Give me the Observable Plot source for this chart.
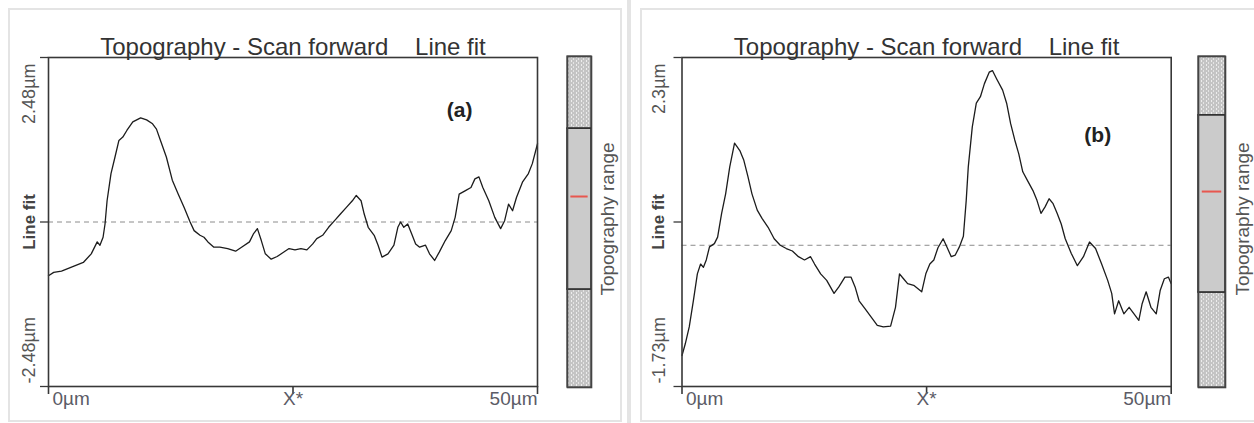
<!DOCTYPE html>
<html><head><meta charset="utf-8">
<script src="https://cdn.jsdelivr.net/npm/d3@7"></script>
<script src="https://cdn.jsdelivr.net/npm/@observablehq/plot@0.6"></script>
<style>
body{margin:0;background:#fff;}
#wrap{position:relative;width:1254px;height:423px;overflow:hidden;font-family:"Liberation Sans",Arial,sans-serif;}
#wrap svg{position:absolute;top:0;overflow:visible;}
svg text{white-space:pre;}
.box{position:absolute;border:2px solid #e4e4e4;box-sizing:border-box;}
</style></head><body><div id="wrap"></div>
<script>
// ---- data ----
const titleText = "Topography - Scan forward    Line fit";
const xTicks = [0, 25, 50];
const xTickLabels = ["0µm", "X*", "50µm"];
const rangeLabel = "Topography range";

const aYDomain = [-2.48, 2.48];
const aYLabels = ["-2.48µm", "Line fit", "2.48µm"];
const aLabel = "(a)";
const aX = [0,0.53,1.33,2.35,3.56,4.37,4.98,5.26,5.58,5.78,5.99,6.39,6.80,7.20,7.6,8.01,8.62,9.42,10.03,10.64,11.04,11.45,12.05,12.66,13.27,13.87,14.48,14.89,15.49,15.90,16.30,16.91,17.52,18.32,19.13,19.74,20.55,20.95,21.36,21.76,22.17,22.77,23.38,23.99,24.60,25.20,25.81,26.42,27.02,27.43,28.03,28.64,29.25,29.85,30.46,31.07,31.47,31.96,32.28,32.69,33.30,33.70,34.10,34.71,35.32,35.72,36.00,36.33,36.73,37.14,37.54,37.95,38.55,38.96,39.48,39.97,40.57,41.18,41.58,41.99,42.59,43.20,43.60,44.01,44.41,45.02,45.63,46.23,46.64,47.04,47.45,47.85,48.46,49.07,49.47,50];
const aY = [-0.81,-0.76,-0.74,-0.68,-0.61,-0.48,-0.30,-0.35,-0.23,-0.03,0.32,0.73,0.98,1.23,1.28,1.38,1.51,1.57,1.54,1.48,1.40,1.23,0.98,0.63,0.42,0.22,0,-0.13,-0.20,-0.23,-0.30,-0.38,-0.38,-0.40,-0.44,-0.38,-0.30,-0.18,-0.10,-0.28,-0.48,-0.56,-0.52,-0.46,-0.40,-0.42,-0.40,-0.42,-0.33,-0.25,-0.20,-0.08,0.02,0.12,0.22,0.32,0.40,0.32,0.12,-0.08,-0.20,-0.35,-0.53,-0.48,-0.35,-0.08,0,-0.08,-0.03,-0.18,-0.33,-0.38,-0.35,-0.48,-0.58,-0.45,-0.28,-0.13,0.07,0.42,0.47,0.52,0.65,0.68,0.52,0.32,0.07,-0.10,0.02,0.27,0.17,0.37,0.60,0.73,0.88,1.18];
const aRange = [0.296, 0.782];
const aMarker = 0.577;

const bYDomain = [-1.73, 2.3];
const bYLabels = ["-1.73µm", "Line fit", "2.3µm"];
const bLabel = "(b)";
const bX = [0,0.33,0.74,1.16,1.57,1.90,2.19,2.48,2.81,3.31,3.64,4.05,4.46,4.88,5.37,5.91,6.32,6.74,7.15,7.69,8.18,8.80,9.42,10.04,10.66,11.28,11.90,12.52,13.14,13.55,14.17,14.79,15.54,16.03,16.65,17.27,17.69,18.10,18.72,19.34,19.96,20.58,21.32,21.82,22.23,22.64,23.06,23.68,24.50,24.92,25.33,25.74,26.16,26.69,27.11,27.52,27.93,28.35,28.76,29.05,29.26,29.67,30.08,30.50,30.91,31.40,31.73,32.15,32.77,33.18,33.59,34.01,34.42,34.83,35.37,35.87,36.28,36.69,37.11,37.52,37.93,38.35,38.76,39.17,39.79,40.41,41.03,41.65,42.27,42.89,43.51,43.92,44.21,44.63,45.16,45.70,46.20,46.69,47.02,47.44,47.93,48.47,48.88,49.30,49.71,50];
const bY = [-1.35,-1.21,-1.00,-0.68,-0.35,-0.23,-0.27,-0.18,-0.02,0.02,0.10,0.39,0.63,0.96,1.25,1.16,1.04,0.84,0.63,0.43,0.33,0.22,0.08,0,-0.04,-0.07,-0.14,-0.18,-0.14,-0.23,-0.35,-0.43,-0.59,-0.51,-0.39,-0.39,-0.51,-0.68,-0.78,-0.88,-0.98,-1.00,-0.99,-0.76,-0.35,-0.41,-0.47,-0.49,-0.57,-0.35,-0.23,-0.18,-0.03,0.08,-0.03,-0.14,-0.12,-0.02,0.11,0.55,0.96,1.45,1.74,1.82,1.98,2.12,2.14,2.04,1.90,1.74,1.49,1.29,1.12,0.90,0.78,0.67,0.55,0.39,0.47,0.57,0.51,0.39,0.26,0.08,-0.10,-0.25,-0.14,0.04,-0.04,-0.23,-0.43,-0.59,-0.84,-0.68,-0.84,-0.76,-0.84,-0.92,-0.72,-0.57,-0.76,-0.84,-0.55,-0.41,-0.39,-0.47];
const bRange = [0.287, 0.822];
const bMarker = 0.592;

// ---- drawing ----
const wrap = document.getElementById("wrap");
const FONT = '"Liberation Sans", Arial, sans-serif';

function box(left, top, w, h) {
  const d = document.createElement("div");
  d.className = "box";
  Object.assign(d.style, {left: left + "px", top: top + "px", width: w + "px", height: h + "px"});
  wrap.appendChild(d);
}
box(8, 8, 614, 414);
box(627, -4, 4, 440);
box(640, 8, 640, 414);

function chart({xs, ys, yDomain, yLabels, label, left, width, marginLeft, marginRight, ylabDx, labDx, labDy}) {
  const data = ys.map((y, i) => ({x: xs[i], y}));
  const mid = (yDomain[0] + yDomain[1]) / 2;
  const anchors = ["start", "middle", "end"];
  const svg = Plot.plot({
    width, height: 423, marginLeft, marginRight, marginTop: 57, marginBottom: 37,
    x: {domain: [0, 50], axis: null},
    y: {domain: yDomain, axis: null},
    style: {fontFamily: FONT, background: "transparent", overflow: "visible"},
    marks: [
      Plot.ruleY([0], {stroke: "#8c8c8c", strokeDasharray: "5,4", strokeWidth: 1}),
      Plot.line(data, {x: "x", y: "y", stroke: "#1c1c1c", strokeWidth: 1.3}),
      Plot.frame({stroke: "#383838", strokeWidth: 1.6}),
      Plot.axisX({ticks: xTicks, tickSize: 8, tickFormat: () => "", label: null, stroke: "#383838", strokeWidth: 1.6}),
      Plot.axisY({ticks: [yDomain[0], mid, yDomain[1]], tickSize: 8, tickFormat: () => "", label: null, stroke: "#383838", strokeWidth: 1.3}),
      ...xTicks.map((t, i) => Plot.text([i], {
        x: j => xTicks[j], text: j => xTickLabels[j], frameAnchor: "bottom", dy: 18,
        dx: i === 0 ? 4 : 0, textAnchor: anchors[i], fontSize: 19, fill: "#5b5b66"
      })),
      Plot.text([yLabels[2]], {text: d => d, frameAnchor: "top-left", rotate: -90, textAnchor: "end", lineAnchor: "middle", dx: ylabDx, dy: 6, fontSize: 18, fill: "#555"}),
      Plot.text([yLabels[1]], {text: d => d, frameAnchor: "left", rotate: -90, textAnchor: "middle", lineAnchor: "middle", dx: ylabDx, dy: 0, fontSize: 17, fill: "#444", fontWeight: "bold"}),
      Plot.text([yLabels[0]], {text: d => d, frameAnchor: "bottom-left", rotate: -90, textAnchor: "start", lineAnchor: "middle", dx: ylabDx, dy: -3, fontSize: 18, fill: "#555"}),
      Plot.text([titleText], {text: d => d, frameAnchor: "top", dy: -20, fontSize: 24, fill: "#333"}),
      Plot.text([label], {text: d => d, frameAnchor: "top-right", dx: labDx, dy: labDy, fontSize: 21, fontWeight: "bold", fill: "#222"})
    ]
  });
  svg.style.left = left + "px";
  wrap.appendChild(svg);
}

function bar({range, marker, left, width, marginLeft, marginRight, textDx, pid}) {
  const hatch = [[0, range[0]], [range[1], 1]];
  const solid = [range];
  const svg = Plot.plot({
    width, height: 423, marginLeft, marginRight, marginTop: 56, marginBottom: 36,
    x: {domain: [0, 1], axis: null},
    y: {domain: [0, 1], axis: null},
    style: {fontFamily: FONT, background: "transparent", overflow: "visible"},
    marks: [
      Plot.rect(hatch, {x1: () => 0, x2: () => 1, y1: d => d[0], y2: d => d[1], fill: `url(#${pid})`, stroke: "#444", strokeWidth: 1.2}),
      Plot.rect(solid, {x1: () => 0, x2: () => 1, y1: d => d[0], y2: d => d[1], fill: "#cbcbcb", stroke: "#2a2a2a", strokeWidth: 1.6}),
      Plot.ruleY([marker], {x1: () => 0.14, x2: () => 0.86, stroke: "#e8574f", strokeWidth: 2}),
      Plot.frame({stroke: "#444", strokeWidth: 1.6}),
      Plot.text([rangeLabel], {text: d => d, frameAnchor: "right", rotate: -90, textAnchor: "middle", lineAnchor: "middle", dx: textDx, dy: -3, fontSize: 19, fill: "#555"})
    ]
  });
  d3.select(svg).insert("defs", ":first-child").html(
    `<pattern id="${pid}" width="5" height="4" patternUnits="userSpaceOnUse">
       <rect width="5" height="4" fill="#c4c4c4"/>
       <rect x="1" y="0" width="1" height="2" fill="#ededed"/>
       <rect x="3" y="2" width="1" height="2" fill="#e4e4e4"/>
     </pattern>`);
  svg.style.left = left + "px";
  wrap.appendChild(svg);
}

chart({xs: aX, ys: aY, yDomain: aYDomain, yLabels: aYLabels, label: aLabel, left: 0, width: 560, marginLeft: 48, marginRight: 23, ylabDx: -19, labDx: -65, labDy: 45});
bar({range: aRange, marker: aMarker, left: 540, width: 80, marginLeft: 27, marginRight: 29, textDx: 16, pid: "hatchA"});
chart({xs: bX, ys: bY, yDomain: bYDomain, yLabels: bYLabels, label: bLabel, left: 620, width: 580, marginLeft: 61.5, marginRight: 29.3, ylabDx: -23, labDx: -60, labDy: 70});
bar({range: bRange, marker: bMarker, left: 1170, width: 84, marginLeft: 28, marginRight: 29, textDx: 17, pid: "hatchB"});
</script></body></html>
